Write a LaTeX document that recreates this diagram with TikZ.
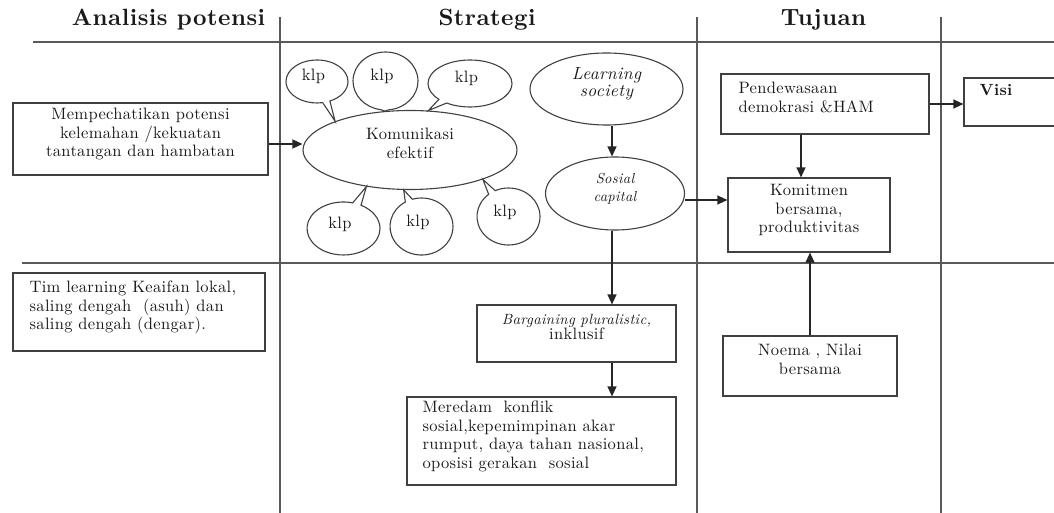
\documentclass[tikz,border=0pt]{standalone}
\usepackage{fontspec}
\setmainfont{lmroman10}[Extension=.otf, UprightFont=*-regular, BoldFont=*-bold, ItalicFont=*-italic, BoldItalicFont=*-bolditalic, LetterSpace=2]
\usetikzlibrary{arrows.meta,shapes.geometric,shapes.callouts}
\newcommand\bodyf{\fontsize{16.5}{18.5}\selectfont}
\newcommand\topst{\rule{0pt}{12pt}}
\newcommand\botst{\rule[-13pt]{0pt}{13pt}}
\begin{document}
\begin{tikzpicture}[x=1pt,y=-1pt,
  gridln/.style={draw=black!65,line width=1.2pt},
  boxn/.style={draw=black!75,line width=1.2pt,rectangle,inner sep=0pt,font=\bodyf,text=black!90,align=center,execute at begin node=\topst,execute at end node=\botst},
  ell/.style={ellipse,draw=black!75,line width=1.1pt,inner sep=0pt,text=black!90,align=center,execute at begin node=\topst,execute at end node=\botst},
  bub/.style={ellipse callout,draw=black!75,line width=1.1pt,inner sep=0pt,font=\bodyf,text=black!90,callout pointer arc=14,execute at begin node=\topst,execute at end node={\botst\hspace*{7pt}}},
  txtl/.style={anchor=west,inner sep=0pt,font=\bodyf,text=black!90,align=left,execute at begin node=\topst,execute at end node=\botst},
  hd/.style={anchor=base,inner sep=0pt,font=\fontsize{23.5}{26}\selectfont\bfseries,text=black!90},
  arr/.style={draw=black!85,line width=1.3pt,-{Triangle[length=10pt,width=9pt]}}]
\useasboundingbox (0,0) rectangle (1054,513);
\clip (0,0) rectangle (1054,513);
% grid
\draw[gridln] (33,42) -- (1054,42);
\draw[gridln] (22,263) -- (1054,263);
\draw[gridln] (280,17) -- (280,513);
\draw[gridln] (697,17) -- (697,513);
\draw[gridln] (941,17) -- (941,513);
% headers
\node[hd] (h1) at (168.5,26) {Analisis potensi};
\node[hd] (h2) at (487,26) {Strategi};
\node[hd] (h3) at (823.5,26) {Tujuan};
% left column
\node[boxn,minimum width=255pt,minimum height=72pt] (lbox) at (140.5,139) {Mempechatikan potensi\\kelemahan /kekuatan\\tantangan dan hambatan};
\node[boxn,minimum width=252pt,minimum height=78pt] (tim) at (139,312) {};
\node[txtl] (timt) at ([xshift=17pt]tim.west) {Tim learning Keaifan lokal,\\saling dengah \ (asuh) dan\\saling dengah (dengar).};
% strategi
\node[ell,minimum width=214pt,minimum height=79pt,font=\bodyf] (kom) at (410,150) {Komunikasi\\efektif};
\node[bub,minimum width=62pt,minimum height=43pt,callout absolute pointer={(kom.159)}] (k1) at (317,81.5) {klp};
\node[bub,minimum width=65pt,minimum height=58pt,callout absolute pointer={(kom.123)}] (k2) at (385.5,81) {klp};
\node[bub,minimum width=84pt,minimum height=47pt,callout absolute pointer={(kom.65)}] (k3) at (470,83.5) {klp};
\node[bub,minimum width=73pt,minimum height=53pt,callout absolute pointer={(kom.220)}] (k4) at (343.5,228.5) {klp};
\node[bub,minimum width=63pt,minimum height=57pt,callout absolute pointer={(kom.261)}] (k5) at (421.5,226.5) {klp};
\node[bub,minimum width=63pt,minimum height=57pt,callout absolute pointer={(kom.338)}] (k6) at (508.5,216.5) {klp};
\node[ell,minimum width=153pt,minimum height=72pt,font=\fontsize{17.5}{17}\selectfont\itshape] (learn) at (606.5,89) {Learning\\society};
\node[ell,minimum width=139pt,minimum height=73pt,font=\fontsize{14.5}{18}\selectfont\itshape] (sos) at (615,193.5) {Sosial\\capital};
\node[boxn,minimum width=199pt,minimum height=57pt,font=\fontsize{16.5}{15.5}\selectfont] (barg) at (576.5,333.5) {{\fontsize{14.8}{15.5}\selectfont\itshape Bargaining pluralistic,}\\inklusif};
\node[boxn,minimum width=269pt,minimum height=88pt] (mer) at (541.5,441) {};
\node[txtl] (mert) at ([xshift=16pt]mer.west) {Meredam \ konflik\\sosial,kepemimpinan akar\\rumput, daya tahan nasional,\\oposisi gerakan \ sosial};
% tujuan
\node[boxn,minimum width=208pt,minimum height=60pt] (pend) at (825,104) {};
\node[txtl] (pendt) at ([xshift=18pt]pend.west) {Pendewasaan\\demokrasi \&HAM};
\node[boxn,minimum width=162pt,minimum height=74pt] (komit) at (809,215) {Komitmen\\bersama,\\produktivitas};
\node[boxn,minimum width=174pt,minimum height=60pt] (noema) at (810,366) {Noema , Nilai\\bersama};
\node[boxn,minimum width=140pt,minimum height=48pt] (visi) at (1034,102) {};
\node[anchor=base west,inner sep=0pt,font=\fontsize{16.2}{18}\selectfont\bfseries,text=black!90] (visit) at ([xshift=16pt,yshift=-18pt]visi.north west) {Visi};
% connectors
\coordinate (ya) at (0,144);
\coordinate (xa) at (612,0);
\coordinate (yb) at (0,200);
\coordinate (xb) at (801,0);
\draw[arr] (lbox.east |- ya) -- (kom.west |- ya);
\draw[arr] (learn.south -| xa) -- (sos.north -| xa);
\draw[arr] (sos.south -| xa) -- (barg.north -| xa);
\draw[arr] (barg.south -| xa) -- (mer.north -| xa);
\draw[arr] (sos.east |- yb) -- (komit.west |- yb);
\draw[arr] (pend.south -| xb) -- (komit.north -| xb);
\draw[arr] (pend.east) -- (visi.west |- pend.east);
\draw[arr] (noema.north) -- (komit.south -| noema.north);
\end{tikzpicture}
\end{document}
